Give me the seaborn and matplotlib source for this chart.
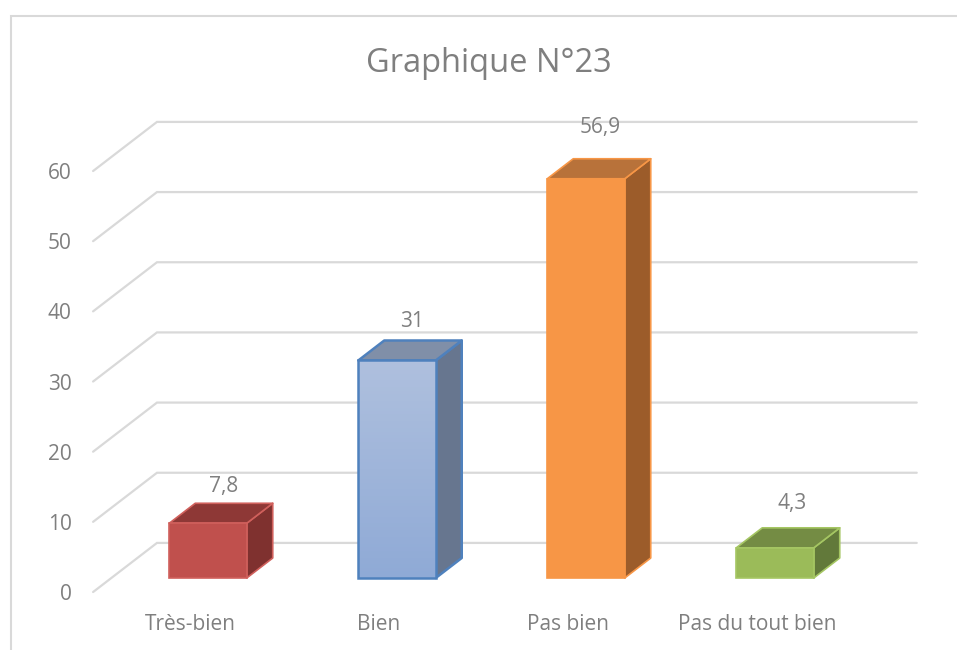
import numpy as np
import pandas as pd
import seaborn as sns
import matplotlib.pyplot as plt
from matplotlib.colors import LinearSegmentedColormap
from matplotlib.lines import Line2D
from matplotlib.patches import Polygon
from matplotlib.transforms import Affine2D

categories = ['Très-bien', 'Bien', 'Pas bien', 'Pas du tout bien']
values = [7.8, 31, 56.9, 4.3]
y_ticks = [0, 10, 20, 30, 40, 50, 60]

front_colors = ['#C0504D', '#9DB3D9', '#F79646', '#9BBB59']
edge_colors = ['#D0605C', '#4F81BD', '#F79646', '#A5C663']
top_colors = ['#8E3836', '#808FA8', '#B8723A', '#748C44']
side_colors = ['#7F312F', '#67768F', '#9C5C2A', '#62793A']

# offsets of the value labels from the bar centre / top, in pixels
label_dx = [16, 15, 14, 17]
label_dy = [37, 39, 51, 44]

text_color = '#7F7F7F'
grid_color = '#D9D9D9'

W, H = 957, 650
sns.set_theme(style='white')
plt.rcParams['font.family'] = ['Open Sans', 'DejaVu Sans']

fig = plt.figure(figsize=(W / 100, H / 100), dpi=100)
ax = fig.add_axes([113.5 / W, 1 - 578 / H, 756 / W, 421 / H])

df = pd.DataFrame({'categorie': categories, 'valeur': values})
sns.barplot(data=df, x='categorie', y='valeur', hue='categorie', palette=front_colors,
            width=0.41, saturation=1, legend=False, ax=ax)
ax.set_xlim(-0.5, 3.5)
ax.set_ylim(0, 60)
ax.set_xlabel('')
ax.set_ylabel('')
sns.despine(ax=ax, left=True, bottom=True)

px_x = 1 / 189
px_y = 60 / 421
depth_x, depth_y = 26 * px_x, 20 * px_y

# floor and back wall lines
for v in y_ticks:
    ax.plot([-0.608, -0.27, 3.75], [v - 2, v + 5, v + 5], color=grid_color, lw=1.6,
            clip_on=False, zorder=1, solid_joinstyle='miter')

# fake 3d faces built from the bars seaborn drew
for i, p in enumerate(ax.patches):
    x0, x1 = p.get_x(), p.get_x() + p.get_width()
    h = p.get_height()
    edge_w = 1.8 if i == 1 else 1.2
    top = [(x0, h), (x1, h), (x1 + depth_x, h + depth_y), (x0 + depth_x, h + depth_y)]
    side = [(x1, 0), (x1 + depth_x, depth_y), (x1 + depth_x, h + depth_y), (x1, h)]
    ax.add_patch(Polygon(side, closed=True, facecolor=side_colors[i], edgecolor=edge_colors[i],
                         lw=edge_w, zorder=3, clip_on=False, joinstyle='round'))
    ax.add_patch(Polygon(top, closed=True, facecolor=top_colors[i], edgecolor=edge_colors[i],
                         lw=edge_w, zorder=3, clip_on=False, joinstyle='round'))
    p.set_edgecolor(edge_colors[i])
    p.set_linewidth(edge_w)
    p.set_zorder(4)
    p.set_clip_on(False)
    ax.annotate(f'{values[i]:g}'.replace('.', ','),
                xy=(p.get_x() + p.get_width() / 2, h),
                xytext=(label_dx[i] * 0.72, label_dy[i] * 0.72), textcoords='offset points',
                ha='center', va='center', fontsize=15, color=text_color, zorder=6)

# the Bien bar has a light vertical gradient
bien = ax.patches[1]
cmap = LinearSegmentedColormap.from_list('bien', ['#AFC0DE', '#8FAAD6'])
im = ax.imshow(np.linspace(0, 1, 64).reshape(-1, 1), cmap=cmap, aspect='auto', zorder=3.5,
               extent=[bien.get_x(), bien.get_x() + bien.get_width(), 0, bien.get_height()])
im.set_clip_path(bien)
bien.set_facecolor('none')
ax.set_xlim(-0.5, 3.5)
ax.set_ylim(0, 60)

ax.set_xticks(range(len(categories)))
ax.set_xticklabels(categories)
ax.set_yticks(y_ticks)
ax.tick_params(axis='x', length=0, pad=25.7, labelsize=15, labelcolor=text_color)
ax.tick_params(axis='y', length=0, pad=30, labelsize=15, labelcolor=text_color)
for lab in ax.get_xticklabels():
    lab.set_transform(lab.get_transform() + Affine2D().translate(-18, 0))
for lab in ax.get_yticklabels():
    lab.set_transform(lab.get_transform() + Affine2D().translate(0, -14))

fig.suptitle('Graphique N°23', x=489 / W, y=1 - 63 / H, va='center', ha='center',
             fontsize=23.5, color=text_color)

# chart frame, cut by the screenshot on the right and bottom
fig.add_artist(Line2D([10.5 / W, 10.5 / W, 1], [0, 1 - 16 / H, 1 - 16 / H], color=grid_color,
                      lw=1.5, transform=fig.transFigure, solid_joinstyle='miter'))

fig.savefig('out.png', dpi=100)
